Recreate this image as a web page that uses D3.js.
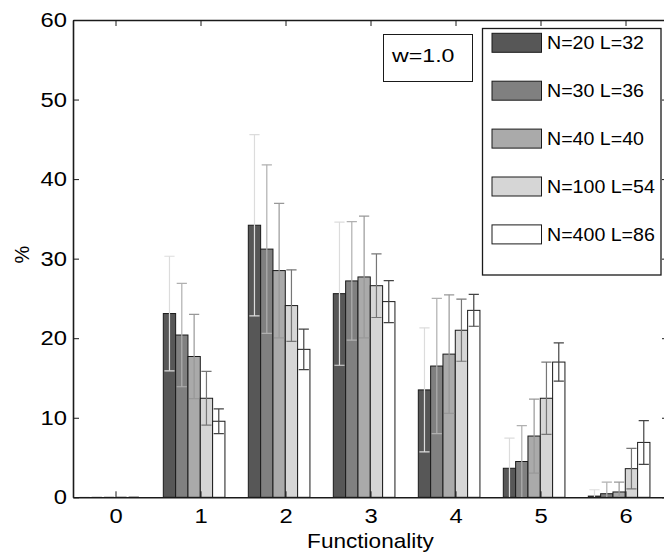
<!DOCTYPE html>
<html>
<head>
<meta charset="utf-8">
<script src="https://cdn.jsdelivr.net/npm/d3@7"></script>
<style>
  html, body { margin: 0; padding: 0; background: #fff; }
  svg { display: block; }
  text { font-family: "Liberation Sans", Arial, Helvetica, sans-serif; fill: #000; }
</style>
</head>
<body>
<svg id="chart" width="664" height="555"></svg>
<script>
// Functionality categories on the x axis
const categories = [0, 1, 2, 3, 4, 5, 6];

// Series labels (network size N and length L)
const seriesNames = ["N=20 L=32", "N=30 L=36", "N=40 L=40", "N=100 L=54", "N=400 L=86"];

// Mean percentage per functionality, one array per series
const s20  = [0, 23.1, 34.2, 25.6, 13.5,  3.65, 0.15];
const s30  = [0, 20.4, 31.2, 27.2, 16.5,  4.5,  0.45];
const s40  = [0, 17.7, 28.5, 27.7, 18.0,  7.7,  0.67];
const s100 = [0, 12.45, 24.1, 26.6, 21.0, 12.45, 3.6];
const s400 = [0, 9.56, 18.6, 24.6, 23.5, 17.0,  6.9];

// Symmetric error (half-width of the error bar) per series
const e20  = [0, 7.2, 11.4, 9.0, 7.8, 3.8, 0.8];
const e30  = [0, 6.5, 10.6, 7.45, 8.5, 4.5, 1.45];
const e40  = [0, 5.3, 8.45, 7.65, 7.45, 4.65, 1.25];
const e100 = [0, 3.37, 4.5, 4.0, 3.9, 4.55, 2.55];
const e400 = [0, 1.55, 2.55, 2.65, 2.0, 2.4, 2.75];

const yTicks = [0, 10, 20, 30, 40, 50, 60];
const annotation = "w=1.0";

const values = [s20, s30, s40, s100, s400];
const errors = [e20, e30, e40, e100, e400];
const fills = ["#575757", "#808080", "#aaaaaa", "#d6d6d6", "#ffffff"];
const errColors = ["#dcdcdc", "#b0b0b0", "#989898", "#767676", "#444444"];

const svg = d3.select("#chart");
const plotLeft = 73, plotTop = 20, plotRight = 668, plotBottom = 497.3;

const x = d3.scaleLinear().domain([-0.5, 6.5]).range([plotLeft, plotRight]);
const y = d3.scaleLinear().domain([0, 60]).range([plotBottom, plotTop]);

// grouped bar layout in data units
const barW = 0.145;
const groupShift = -0.075;
const nS = values.length;
const barX = (cat, s) => cat + groupShift + (s - (nS - 1) / 2) * barW;

// widen glyphs horizontally around their own anchor point
function stretch(sel, sx) {
  sel.each(function () {
    const t = d3.select(this);
    const tx = +t.attr("x") || 0, ty = +t.attr("y") || 0;
    const prev = t.attr("transform") || "";
    t.attr("x", 0).attr("y", 0)
      .attr("transform", `${prev} translate(${tx},${ty}) scale(${sx},1)`);
  });
}

svg.append("clipPath").attr("id", "plotclip")
  .append("rect").attr("x", plotLeft).attr("y", plotTop)
  .attr("width", plotRight - plotLeft).attr("height", plotBottom - plotTop);

const plot = svg.append("g").attr("clip-path", "url(#plotclip)");

// bars
values.forEach((vals, s) => {
  plot.append("g").selectAll("rect")
    .data(categories)
    .join("rect")
    .attr("x", c => x(barX(c, s) - barW / 2))
    .attr("width", x(barW) - x(0))
    .attr("y", (c, i) => y(vals[i]))
    .attr("height", (c, i) => y(0) - y(vals[i]))
    .attr("fill", fills[s])
    .attr("stroke", "#1a1a1a")
    .attr("stroke-width", 1);
});

// error bars
const capHalf = 0.06;
values.forEach((vals, s) => {
  const g = plot.append("g")
    .attr("stroke", errColors[s])
    .attr("stroke-width", 1.2)
    .attr("fill", "none");
  categories.forEach((c, i) => {
    const cx = x(barX(c, s));
    const lo = y(vals[i] - errors[s][i]);
    const hi = y(vals[i] + errors[s][i]);
    g.append("line").attr("x1", cx).attr("x2", cx).attr("y1", lo).attr("y2", hi);
    g.append("line").attr("x1", x(barX(c, s) - capHalf)).attr("x2", x(barX(c, s) + capHalf))
      .attr("y1", hi).attr("y2", hi);
    g.append("line").attr("x1", x(barX(c, s) - capHalf)).attr("x2", x(barX(c, s) + capHalf))
      .attr("y1", lo).attr("y2", lo);
  });
});

// axes (ticks pointing inward)
const fontSize = "20.5px";
const tickLen = 6;
const axB = svg.append("g").attr("transform", `translate(0,${plotBottom})`)
  .call(d3.axisBottom(x).tickValues(categories).tickFormat(d3.format("d"))
    .tickSizeInner(-tickLen).tickSizeOuter(0).tickPadding(10));
const axT = svg.append("g").attr("transform", `translate(0,${plotTop})`)
  .call(d3.axisTop(x).tickValues(categories).tickFormat("")
    .tickSizeInner(-tickLen).tickSizeOuter(0));
const axL = svg.append("g").attr("transform", `translate(${plotLeft},0)`)
  .call(d3.axisLeft(y).tickValues(yTicks).tickFormat(d3.format("d"))
    .tickSizeInner(-tickLen).tickSizeOuter(0).tickPadding(6));
const axR = svg.append("g").attr("transform", `translate(${plotRight},0)`)
  .call(d3.axisRight(y).tickValues(yTicks).tickFormat("")
    .tickSizeInner(-tickLen).tickSizeOuter(0));

[axB, axT, axL, axR].forEach(a => {
  a.select(".domain").attr("stroke", "#1a1a1a").attr("stroke-width", 1.6);
  a.selectAll(".tick line").attr("stroke", "#1a1a1a").attr("stroke-width", 1);
  a.selectAll(".tick text").attr("font-size", fontSize)
    .attr("font-family", "'Liberation Sans', Arial, Helvetica, sans-serif")
    .attr("fill", "#000");
});
axB.selectAll(".tick text").attr("dy", "0.75em");
stretch(axB.selectAll(".tick text"), 1.16);
stretch(axL.selectAll(".tick text"), 1.16);

// axis titles
svg.append("text")
  .attr("x", (plotLeft + plotRight) / 2).attr("y", 548)
  .attr("text-anchor", "middle").attr("font-size", "20px")
  .text("Functionality")
  .call(stretch, 1.13);
svg.append("text")
  .attr("transform", `translate(29,${(plotTop + plotBottom) / 2 - 4}) rotate(-90)`)
  .attr("text-anchor", "middle").attr("font-size", "20px")
  .text("%");

// annotation box
svg.append("rect").attr("x", 383.5).attr("y", 34.5).attr("width", 89).attr("height", 47)
  .attr("fill", "#fff").attr("stroke", "#1a1a1a").attr("stroke-width", 1);
svg.append("text").attr("x", 392).attr("y", 61.5).attr("font-size", "19px")
  .text(annotation)
  .call(stretch, 1.22);

// legend
const lg = svg.append("g");
lg.append("rect").attr("x", 482.5).attr("y", 28.5).attr("width", 178.5).attr("height", 246.5)
  .attr("fill", "#fff").attr("stroke", "#1a1a1a").attr("stroke-width", 1.3);
seriesNames.forEach((name, s) => {
  const cy = 42.8 + s * 47.9;
  lg.append("rect").attr("x", 492).attr("y", cy - 9.5).attr("width", 49.5).attr("height", 19)
    .attr("fill", fills[s]).attr("stroke", "#1a1a1a").attr("stroke-width", 1);
  lg.append("text").attr("x", 547).attr("y", cy + 6.5).attr("font-size", "18.5px")
    .text(name)
    .call(stretch, 1.06);
});
</script>
</body>
</html>
